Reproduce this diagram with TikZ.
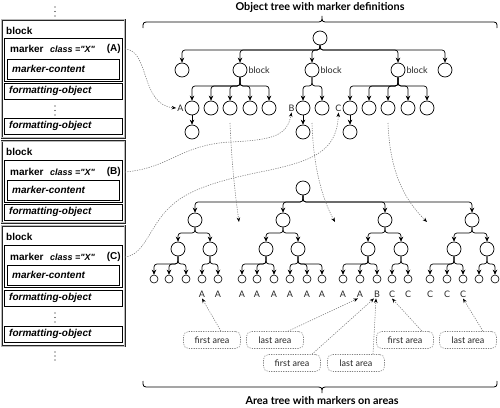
\documentclass[tikz,border=0pt]{standalone}
\usepackage{fontspec}
\setmainfont{Lato}
\newfontfamily\arialf{Liberation Sans}
\usetikzlibrary{arrows.meta,calc}
\newcommand{\qx}{\symbol{34}X\symbol{34}}
\begin{document}
\begin{tikzpicture}[x=1pt,y=-1pt,
  nd/.style={circle,draw,line width=0.7pt,minimum size=14pt,inner sep=0pt},
  sn/.style={circle,draw,line width=0.6pt,minimum size=8pt,inner sep=0pt},
  edge/.style={line width=0.7pt,rounded corners=3pt,-{Stealth[length=5pt,width=4.5pt]}},
  conn/.style={gray,line width=0.6pt,dash pattern=on 1.2pt off 1.2pt,-{Stealth[length=4.5pt,width=3.5pt,color=black]}},
  lbl/.style={font=\fontsize{9}{10}\selectfont,inner sep=1pt,text=black!85},
  area/.style={draw=gray,line width=0.6pt,dash pattern=on 1.2pt off 1.2pt,rounded corners=5pt,minimum width=57pt,minimum height=17pt,font=\fontsize{9}{10}\selectfont,inner sep=0pt,text=black!85},
  obox/.style={draw=black!85,line width=0.5pt,double=gray!55,double distance=1pt},
  ibox/.style={draw=black,line width=0.7pt,inner sep=0pt,anchor=north west},
  btxt/.style={font=\arialf\bfseries\fontsize{10}{12}\selectfont,inner sep=0pt,anchor=west},
  itxt/.style={font=\arialf\bfseries\itshape\fontsize{10}{12}\selectfont,inner sep=0pt,anchor=west},
  ctxt/.style={font=\arialf\bfseries\itshape\fontsize{9}{11}\selectfont,inner sep=0pt,anchor=west},
  brace/.style={line width=0.8pt},
  title/.style={font=\bfseries\fontsize{10.8}{12}\selectfont,inner sep=0pt},
  vdot/.style={fill=black}
]
\useasboundingbox (0,0) rectangle (500,407);

% ---------------- left panel ----------------
\foreach \yy in {7,11.5,16} \fill[vdot] (55,\yy) circle (0.7pt);

% block 1
\draw[obox] (1.5,19.5) rectangle (124.5,137.5);
\node[btxt] (bl1) at (6,31) {block};
\node[ibox,minimum width=118pt,minimum height=43pt] (mk1) at (4,38) {};
\node[btxt] (mt1) at (10,49) {marker};
\node[ctxt] (cl1) at (50,49) {class =\qx};
\node[btxt,anchor=east] (pa) at (121,49) {(A)};
\node[ibox,minimum width=112pt,minimum height=20pt] (mc1) at (7,59) {};
\node[itxt] (mct1) at (12,69) {marker-content};
\node[ibox,minimum width=118pt,minimum height=16pt] (fo1) at (4,83) {};
\node[itxt] (fot1) at (9,91) {formatting-object};
\foreach \yy in {106,110.5,115} \fill[vdot] (55,\yy) circle (0.7pt);
\node[ibox,minimum width=118pt,minimum height=16pt] (fo2) at (4,118) {};
\node[itxt] (fot2) at (9,126) {formatting-object};

% block 2
\draw[obox] (1.5,141) rectangle (124.5,222.5);
\node[btxt] (bl2) at (6,152) {block};
\node[ibox,minimum width=118pt,minimum height=42pt] (mk2) at (4,160) {};
\node[btxt] (mt2) at (10,172) {marker};
\node[ctxt] (cl2) at (50,172) {class =\qx};
\node[btxt,anchor=east] (pb) at (121,172) {(B)};
\node[ibox,minimum width=112pt,minimum height=20pt] (mc2) at (7,180) {};
\node[itxt] (mct2) at (12,190) {marker-content};
\node[ibox,minimum width=118pt,minimum height=16pt] (fo3) at (4,204) {};
\node[itxt] (fot3) at (9,212) {formatting-object};

% block 3
\draw[obox] (1.5,225.5) rectangle (124.5,346);
\node[btxt] (bl3) at (6,237) {block};
\node[ibox,minimum width=118pt,minimum height=42pt] (mk3) at (4,245) {};
\node[btxt] (mt3) at (10,257) {marker};
\node[ctxt] (cl3) at (50,257) {class =\qx};
\node[btxt,anchor=east] (pc) at (121,257) {(C)};
\node[ibox,minimum width=112pt,minimum height=20pt] (mc3) at (7,265) {};
\node[itxt] (mct3) at (12,275) {marker-content};
\node[ibox,minimum width=118pt,minimum height=16pt] (fo4) at (4,290) {};
\node[itxt] (fot4) at (9,298) {formatting-object};
\foreach \yy in {313,317.5,322} \fill[vdot] (55,\yy) circle (0.7pt);
\node[ibox,minimum width=118pt,minimum height=16pt] (fo5) at (4,326) {};
\node[itxt] (fot5) at (9,334) {formatting-object};
\foreach \yy in {352,356,360} \fill[vdot] (55,\yy) circle (0.7pt);

% ---------------- titles and braces ----------------
\node[title] (t1) at (320,7) {Object tree with marker definitions};
\node[title] (t2) at (322,401) {Area tree with markers on areas};
\draw[brace] (143,28) .. controls (143,22) .. (150,22) -- (315,22)
  .. controls (322,22) .. (322,16) .. controls (322,22) .. (329,22) -- (490,22)
  .. controls (497,22) .. (497,28);
\draw[brace] (143,381) .. controls (143,387) .. (150,387) -- (315,387)
  .. controls (322,387) .. (322,393) .. controls (322,387) .. (329,387) -- (490,387)
  .. controls (497,387) .. (497,381);

% ---------------- upper tree ----------------
\node[nd] (r) at (320,38) {};
\foreach \n/\x in {c1/182,c2/240,c3/312,c4/398,c5/445}{
  \node[nd] (\n) at (\x,70) {};
  \draw[edge] (r.south) |- (\x,50) -- (\n.north);
}
\node[lbl,anchor=west] (bk2) at (c2.east) {block};
\node[lbl,anchor=west] (bk3) at (c3.east) {block};
\node[lbl,anchor=west] (bk4) at (c4.east) {block};

\foreach \n/\x in {d1/192,d2/211,d3/230,d4/250,d5/269}{
  \node[nd] (\n) at (\x,108) {};
  \draw[edge] (c2.south) |- (\x,86) -- (\n.north);
}
\foreach \n/\x in {e1/303,e2/322}{
  \node[nd] (\n) at (\x,108) {};
  \draw[edge] (c3.south) |- (\x,86) -- (\n.north);
}
\foreach \n/\x in {f1/350,f2/369,f3/388,f4/408,f5/427}{
  \node[nd] (\n) at (\x,108) {};
  \draw[edge] (c4.south) |- (\x,86) -- (\n.north);
}
\node[nd] (d1c) at (192,132) {};
\node[nd] (e1c) at (303,132) {};
\node[nd] (f1c) at (350,132) {};
\draw[edge] (d1.south) -- (d1c.north);
\draw[edge] (e1.south) -- (e1c.north);
\draw[edge] (f1.south) -- (f1c.north);
\node[lbl,anchor=east] (lA) at (d1.west) {A};
\node[lbl,anchor=east] (lB) at (e1.west) {B};
\node[lbl,anchor=east] (lC) at (f1.west) {C};

% ---------------- lower tree ----------------
\node[nd] (R) at (303,188) {};
\foreach \n/\x in {g1/195,g2/283,g3/385,g4/472}{
  \node[nd] (\n) at (\x,220) {};
  \draw[edge] (R.south) |- (\x,202) -- (\n.north);
}
\foreach \p/\n/\x in {g1/h11/178,g1/h12/210,g2/h21/266,g2/h22/298,g3/h31/368,g3/h32/401,g4/h41/454,g4/h42/487}{
  \node[nd] (\n) at (\x,249) {};
  \draw[edge] (\p.south) |- (\x,233) -- (\n.north);
}
\foreach \p/\kids in {h11/{154,169,186},h12/{202,218},h21/{242,257,274},h22/{290,307,322},h31/{343,360,377},h32/{392,408},h41/{430,447,463},h42/{479,495}}{
  \foreach \k in \kids {
    \node[sn] (s\k) at (\k,279) {};
    \draw[edge] (\p.south) |- (\k,264) -- (s\k.north);
  }
}
\foreach \x/\t in {202/A,218/A,242/A,257/A,274/A,290/A,307/A,322/A,343/A,360/A,377/B,392/C,408/C,430/C,447/C,463/C}{
  \node[lbl] (t\x) at (\x,294) {\t};
}

% ---------------- area boxes ----------------
\node[area] (fa1) at (212,340) {first area};
\node[area] (la1) at (275,340) {last area};
\node[area] (fa2) at (292,363) {first area};
\node[area] (la2) at (356,363) {last area};
\node[area] (fa3) at (405,340) {first area};
\node[area] (la3) at (468,340) {last area};
\draw[conn] ([xshift=9pt]fa1.north) -- (t202.south);
\draw[conn] ([xshift=13pt]la1.north) -- ([xshift=-2pt]t360.south);
\draw[conn] ([xshift=20pt]fa2.north) -- ([xshift=-3pt]t377.south);
\draw[conn] ([xshift=17pt]la2.north) -- ([xshift=-1pt]t377.south);
\draw[conn] ([xshift=17pt]fa3.north) -- (t392.south);
\draw[conn] ([xshift=15pt]la3.north) -- (t463.south);

% ---------------- marker connectors ----------------
\draw[conn] ([xshift=4pt]pa.east) .. controls (150,50) and (140,105) .. (lA.west);
\draw[conn] ([xshift=4pt]pb.east) .. controls (170,168) and (180,145) .. (230,142)
  .. controls (275,140) and (287,135) .. (lB.south);
\draw[conn] ([xshift=4pt]pc.east) .. controls (145,255) and (150,225) .. (170,207)
  .. controls (190,187) and (230,178) .. (270,170)
  .. controls (315,160) and (337,150) .. (lC.south);

\coordinate (v1s) at (230,123); \coordinate (v1e) at (239,222);
\coordinate (v2s) at (312,123); \coordinate (v2e) at (335,222);
\coordinate (v3s) at (388,123); \coordinate (v3e) at (427,222);
\draw[conn] (v1s) .. controls (232,170) and (236,200) .. (v1e);
\draw[conn] (v2s) .. controls (313,160) and (320,195) .. (v2e);
\draw[conn] (v3s) .. controls (390,180) and (410,205) .. (v3e);
\end{tikzpicture}
\end{document}
